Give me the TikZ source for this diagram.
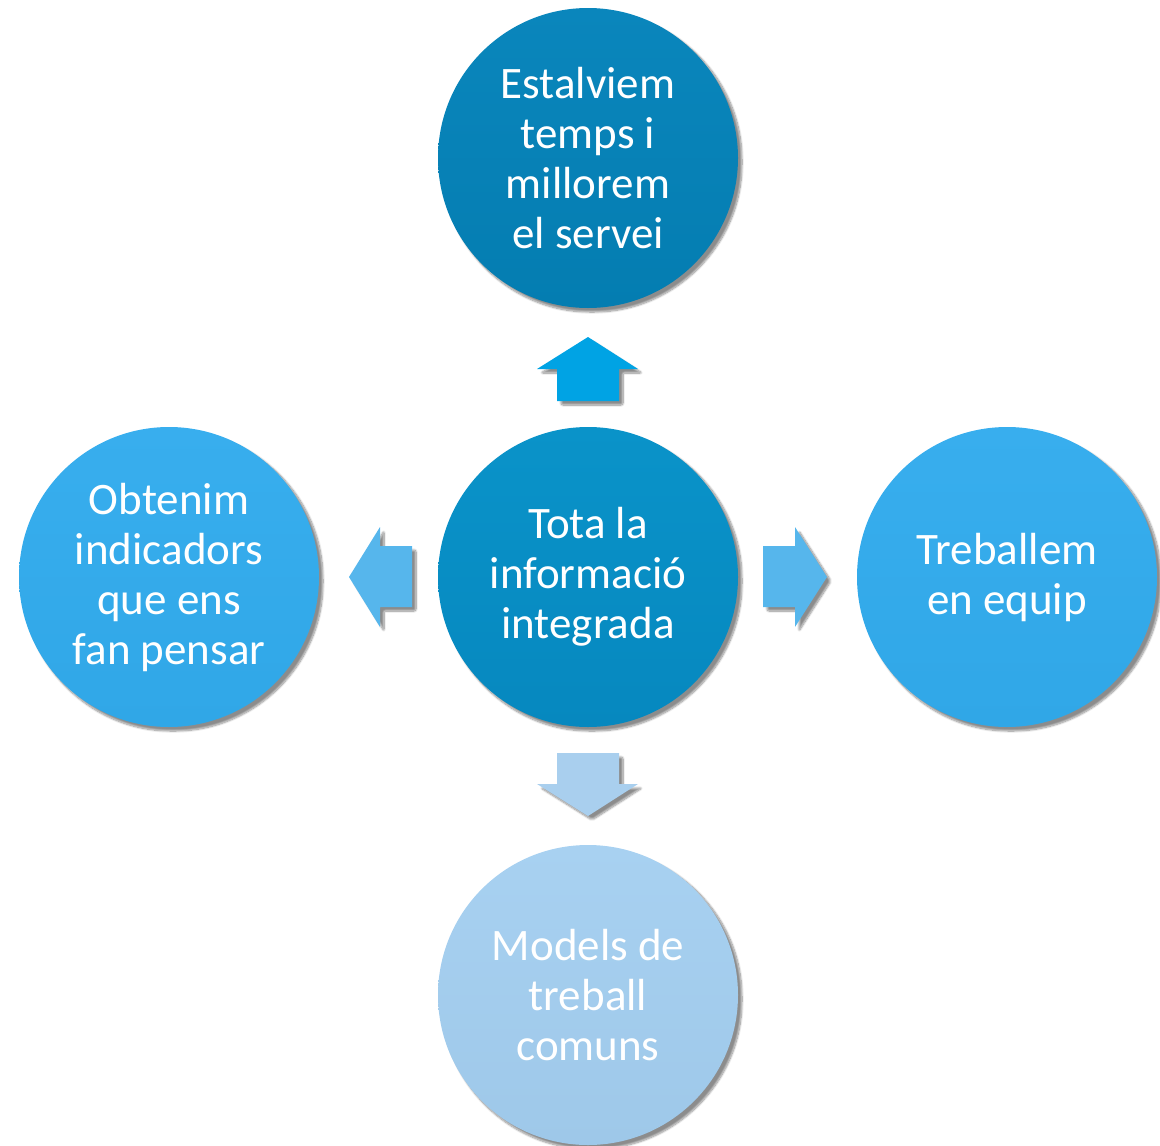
\documentclass[tikz,border=0pt]{standalone}
\usepackage{fontspec}
\setmainfont{Carlito}
\usetikzlibrary{shadows.blur}
\definecolor{topA}{HTML}{0A86BC}
\definecolor{topB}{HTML}{047DB1}
\definecolor{midA}{HTML}{0A93C9}
\definecolor{midB}{HTML}{0688BF}
\definecolor{sideA}{HTML}{38AEEE}
\definecolor{sideB}{HTML}{30A7E7}
\definecolor{lowA}{HTML}{A8D1F1}
\definecolor{lowB}{HTML}{9EC8E9}
\definecolor{arrUp}{HTML}{00A3E4}
\definecolor{arrSide}{HTML}{56B6EC}
\definecolor{arrDown}{HTML}{A9CFEE}
\begin{document}
\begin{tikzpicture}[x=1pt,y=-1pt,
  shad/.style={blur shadow={shadow xshift=4pt,shadow yshift=-4pt,shadow blur steps=10,shadow blur extra rounding=2pt,shadow opacity=45}},
  bub/.style={circle,minimum size=300pt,inner sep=0pt,text=white,align=center,
    font=\fontsize{45}{50}\selectfont,shad},
  blockarrow/.style={shad}
]
\useasboundingbox (0,0) rectangle (1160,1146);
% bubbles
\node[bub,top color=topA,bottom color=topB] (top) at (588,158)
  {Estalviem\\temps i\\millorem\\el servei};
\node[bub,top color=midA,bottom color=midB] (mid) at (588,577)
  {Tota la\\informació\\integrada};
\node[bub,top color=sideA,bottom color=sideB] (lft) at (169,577)
  {Obtenim\\indicadors\\que ens\\fan pensar};
\node[bub,top color=sideA,bottom color=sideB] (rgt) at (1007,577)
  {Treballem\\en equip};
\node[bub,top color=lowA,bottom color=lowB] (bot) at (588,995)
  {Models de\\treball\\comuns};
% block arrows
\fill[arrUp,blockarrow] (588,337) -- (638,369) -- (619,369) -- (619,401)
  -- (557,401) -- (557,369) -- (537,369) -- cycle;
\fill[arrSide,blockarrow] (349,577) -- (380,527) -- (380,546) -- (412,546)
  -- (412,607) -- (380,607) -- (380,627) -- cycle;
\fill[arrSide,blockarrow] (827,577) -- (795,527) -- (795,546) -- (763,546)
  -- (763,607) -- (795,607) -- (795,627) -- cycle;
\fill[arrDown,blockarrow] (588,816) -- (638,784) -- (619,784) -- (619,753)
  -- (557,753) -- (557,784) -- (537,784) -- cycle;
\end{tikzpicture}
\end{document}
